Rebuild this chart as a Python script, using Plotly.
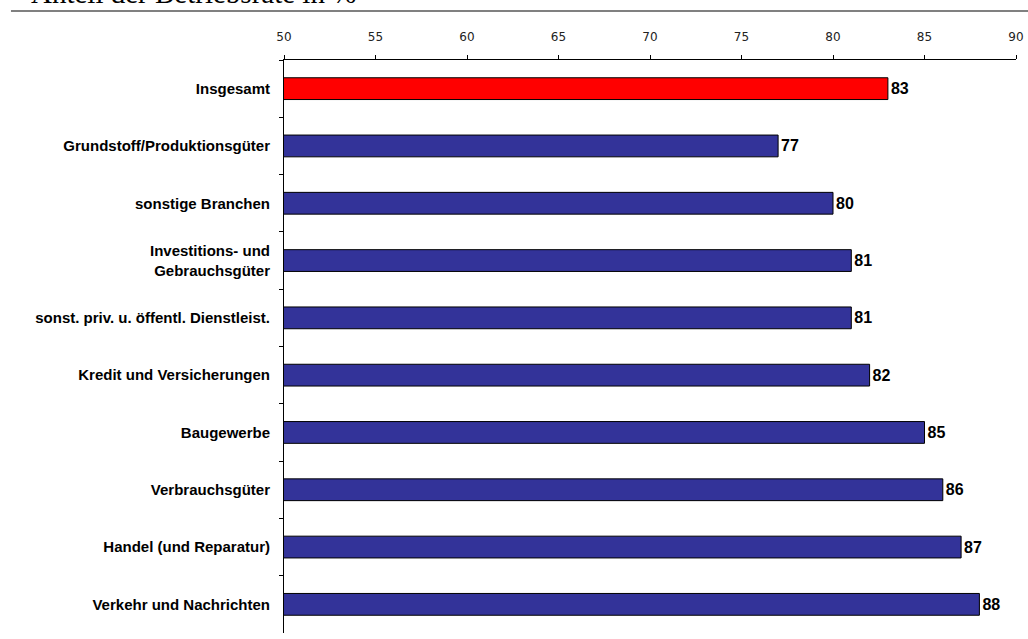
import plotly.graph_objects as go

categories = ["Insgesamt", "Grundstoff/Produktionsgüter", "sonstige Branchen",
              "Investitions- und<br>Gebrauchsgüter", "sonst. priv. u. öffentl. Dienstleist.",
              "Kredit und Versicherungen", "Baugewerbe", "Verbrauchsgüter",
              "Handel (und Reparatur)", "Verkehr und Nachrichten"]
values = [83, 77, 80, 81, 81, 82, 85, 86, 87, 88]
bar_colors = ["#FF0000"] + ["#333399"] * 9
tick_vals = [50, 55, 60, 65, 70, 75, 80, 85, 90]

fig = go.Figure(go.Bar(
    y=categories, x=values, base=0, orientation="h",
    marker=dict(color=bar_colors, line=dict(color="#000000", width=1)),
    width=0.38,
    text=[str(v) for v in values], textposition="outside",
    textfont=dict(family="Liberation Sans", size=16, color="#000000", weight="bold"),
    cliponaxis=False,
))

fig.update_layout(
    width=1028, height=639,
    margin=dict(l=284, r=12, t=60, b=6),
    paper_bgcolor="white", plot_bgcolor="white",
    showlegend=False,
    font=dict(family="Liberation Sans", color="#000000"),
    xaxis=dict(range=[50, 90], side="top", tickvals=tick_vals, automargin=False,
               showgrid=False, zeroline=False, showline=True, linecolor="#000000", linewidth=1,
               ticks="outside", ticklen=4, tickcolor="#000000", ticklabelstandoff=9,
               tickfont=dict(family="DejaVu Sans", size=12, color="#222222")),
    yaxis=dict(autorange="reversed", type="category", tickson="boundaries", automargin=False,
               showgrid=False, showline=True, linecolor="#000000", linewidth=1,
               ticks="outside", ticklen=4, tickcolor="#000000", ticklabelstandoff=10,
               tickfont=dict(family="Liberation Sans", size=15, color="#000000", weight="bold")),
    shapes=[dict(type="line", xref="paper", yref="paper", x0=-0.373, x1=1.02,
                 y0=1.0855, y1=1.0855, line=dict(color="#808080", width=2))],
    annotations=[dict(text="Anteil der Betriebsräte in %", xref="paper", yref="paper",
                      x=-0.349, y=1.0855, xanchor="left", yanchor="bottom", showarrow=False,
                      font=dict(family="Liberation Serif", size=29, color="#000000"))],
)

fig.write_html("out.html", config={"displayModeBar": False},
               post_script="document.body.style.margin='0px';")
